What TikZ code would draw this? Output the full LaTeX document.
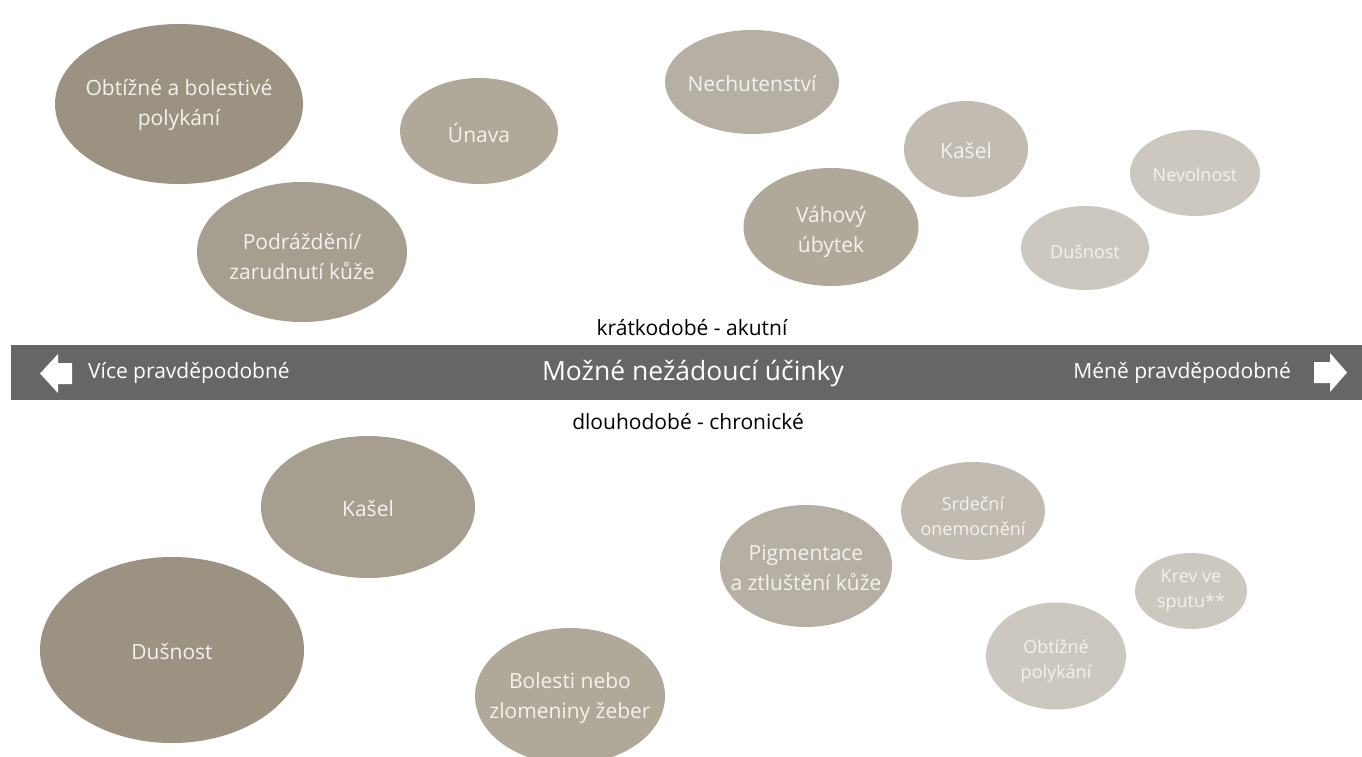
\documentclass[tikz,border=0pt]{standalone}
\usepackage{fontspec}
\setmainfont{Open Sans}
\usetikzlibrary{shapes.geometric}
\definecolor{cA}{HTML}{9B9282}
\definecolor{cB}{HTML}{A69E8F}
\definecolor{cC}{HTML}{B0A899}
\definecolor{cD}{HTML}{B6AFA3}
\definecolor{cE}{HTML}{C1BBB1}
\definecolor{cF}{HTML}{CCC7BF}
\definecolor{barc}{HTML}{666666}
\definecolor{txt}{HTML}{F4F2EE}
\newcommand{\fs}[2]{\fontsize{#1}{#2}\selectfont}
\tikzset{
  blob/.style args={#1/#2/#3}{ellipse, fill=#1, draw=none, minimum width=#2pt, minimum height=#3pt, inner sep=0pt},
  tx/.style={inner sep=0pt, align=center, text=txt, font=\fs{21}{30}, yshift=-2pt},
  small/.style={font=\fs{18}{25}},
  lbl/.style={text=#1, inner sep=0pt, font=\fs{21}{26}},
}
\begin{document}
\begin{tikzpicture}[x=1pt,y=-1pt]
\useasboundingbox (0,0) rectangle (1362,757);
% top row (acute)
\node[blob=cA/248/160] (t1) at (179,104) {};
\node[tx, yshift=1pt] (t1l) at (t1) {Obtížné a bolestivé\\polykání};
\node[blob=cC/158/106] (t2) at (479,131) {};
\node[tx] (t2l) at (t2) {Únava};
\node[blob=cB/210/140] (t3) at (302,252) {};
\node[tx, yshift=-3pt] (t3l) at (t3) {Podráždění/\\zarudnutí kůže};
\node[blob=cD/174/104] (t4) at (752,82) {};
\node[tx] (t4l) at (t4) {Nechutenství};
\node[blob=cE/124/96] (t5) at (966,149) {};
\node[tx] (t5l) at (t5) {Kašel};
\node[blob=cC/175/118] (t6) at (831,227) {};
\node[tx, yshift=-3pt] (t6l) at (t6) {Váhový\\úbytek};
\node[blob=cF/130/86] (t7) at (1195,173) {};
\node[tx, small] (t7l) at (t7) {Nevolnost};
\node[blob=cF/128/84] (t8) at (1085,248) {};
\node[tx, small, yshift=-2pt] (t8l) at (t8) {Dušnost};
% bar
\fill[barc] (11,345) rectangle (1362,400);
\node[lbl=black] (acute) at (692,328) {krátkodobé - akutní};
\node[lbl=black] (chronic) at (688,422) {dlouhodobé - chronické};
\node[lbl=white, font=\fs{26.5}{30}] (title) at (693,374) {Možné nežádoucí účinky};
\node[lbl=white, anchor=west] (more) at (88,373) {Více pravděpodobné};
\node[lbl=white, anchor=east] (less) at (1291,373) {Méně pravděpodobné};
\fill[white] (40,373.5) -- (58,354) -- (58,363) -- (72,363) -- (72,384) -- (58,384) -- (58,393) -- cycle;
\fill[white] (1347,372.5) -- (1330,353) -- (1330,362) -- (1314,362) -- (1314,383) -- (1330,383) -- (1330,392) -- cycle;
% bottom row (chronic)
\node[blob=cB/214/142] (b1) at (368,507) {};
\node[tx] (b1l) at (b1) {Kašel};
\node[blob=cA/264/186] (b2) at (172,650) {};
\node[tx] (b2l) at (b2) {Dušnost};
\node[blob=cC/190/136] (b3) at (570,696) {};
\node[tx] (b3l) at (b3) {Bolesti nebo\\zlomeniny žeber};
\node[blob=cD/172/122] (b4) at (806,566) {};
\node[tx] (b4l) at (b4) {Pigmentace\\a ztluštění kůže};
\node[blob=cE/144/98] (b5) at (973,511) {};
\node[tx, small, yshift=-3pt] (b5l) at (b5) {Srdeční\\onemocnění};
\node[blob=cF/112/76] (b6) at (1191,591) {};
\node[tx, small, yshift=2pt] (b6l) at (b6) {Krev ve\\sputu**};
\node[blob=cF/140/107] (b7) at (1056,656) {};
\node[tx, small, yshift=-3pt] (b7l) at (b7) {Obtížné\\polykání};
\end{tikzpicture}
\end{document}
